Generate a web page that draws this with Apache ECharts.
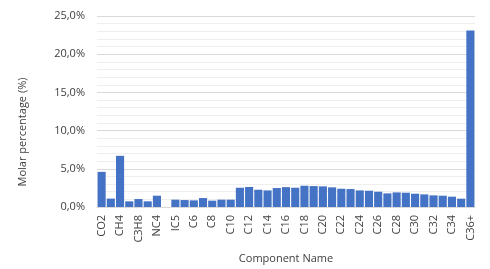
<!DOCTYPE html>
<html><head><meta charset="utf-8">
<script src="https://cdn.jsdelivr.net/npm/echarts@6/dist/echarts.min.js"></script>
<style>html,body{margin:0;padding:0;background:#fff}#c{width:490px;height:269px}</style>
</head><body><div id="c"></div>
<script>
const categories = ["CO2","N2","CH4","C2H6","C3H8","IC4","NC4","NEOC5","IC5","NC5","C6","C7","C8","C9","C10","C11","C12","C13","C14","C15","C16","C17","C18","C19","C20","C21","C22","C23","C24","C25","C26","C27","C28","C29","C30","C31","C32","C33","C34","C35","C36+"];
const values = [4.6,1.1,6.7,0.74,1.04,0.74,1.48,0,0.96,0.91,0.87,1.17,0.83,0.96,0.96,2.52,2.62,2.26,2.17,2.48,2.6,2.52,2.78,2.74,2.7,2.57,2.39,2.35,2.17,2.13,2.0,1.78,1.91,1.87,1.74,1.65,1.52,1.48,1.35,1.09,23.1];
const yTicks = [0,5,10,15,20,25];
const yTitle = 'Molar percentage (%)';
const xTitle = 'Component Name';
const fmt = v => v.toFixed(1).replace('.', ',') + '%';
const chart = echarts.init(document.getElementById('c'));
chart.setOption({
  animation: false,
  textStyle: {fontFamily: 'Open Sans'},
  grid: {left: 97, right: 15, top: 16, bottom: 61},
  graphic: [{
    type: 'text', x: 23, y: 132, rotation: Math.PI / 2,
    style: {text: yTitle, fill: '#404040', font: '11px "Open Sans"', align: 'center', verticalAlign: 'middle'}
  }],
  xAxis: {
    type: 'category', data: categories,
    name: xTitle, nameLocation: 'middle', nameGap: 46,
    nameTextStyle: {color: '#404040', fontSize: 11},
    axisLine: {lineStyle: {color: '#d9d9d9'}},
    axisTick: {show: false},
    axisLabel: {interval: 1, rotate: 90, color: '#404040', fontSize: 11, margin: 8}
  },
  yAxis: {
    type: 'value', min: yTicks[0], max: yTicks[yTicks.length-1], interval: 5,
    axisLabel: {formatter: fmt, color: '#404040', fontSize: 11, margin: 12},
    splitLine: {lineStyle: {color: '#d9d9d9'}},
    minorTick: {show: false, splitNumber: 5},
    minorSplitLine: {show: true, lineStyle: {color: '#efefef'}}
  },
  series: [{
    type: 'bar', data: values, barCategoryGap: '12%',
    itemStyle: {color: '#4472C4'}
  }]
});
</script></body></html>
